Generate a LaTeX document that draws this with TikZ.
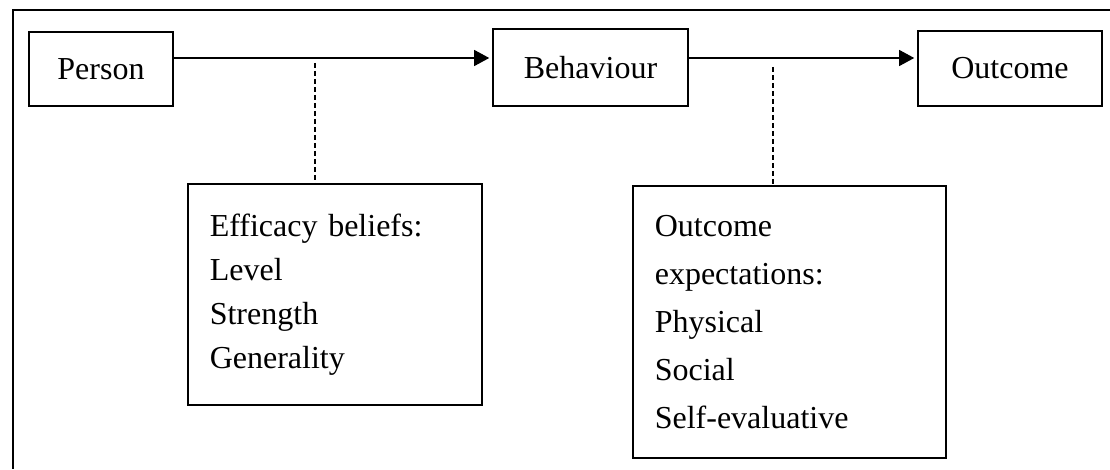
\documentclass[tikz,border=0pt]{standalone}
\usepackage{fontspec}
\setmainfont{Liberation Serif}
\usetikzlibrary{arrows.meta}

\begin{document}
\begin{tikzpicture}[
    x=1pt, y=1pt,
    stage/.style={draw, line width=1.6pt, inner sep=0pt,
      font=\fontsize{32}{44}\selectfont},
    factor/.style={draw, line width=1.6pt, anchor=north west, align=left,
      inner xsep=22pt, inner ysep=0pt},
    link/.style={line width=1.1pt, -{Triangle[length=15pt, width=16pt]}, shorten >=3pt},
    guide/.style={line width=1.1pt, dash pattern=on 5pt off 3pt},
  ]
  \useasboundingbox (0,0) rectangle (1110,469);

  % outer frame, only top and left show
  \draw[line width=1.6pt] (1110,459) -- (13,459) -- (13,0);

  % the three stages
  \node[stage, minimum width=144pt, minimum height=74pt] (person) at (101,400) {Person};
  \node[stage, minimum width=195pt, minimum height=77pt] (behaviour) at (590.5,401.5) {Behaviour};
  \node[stage, minimum width=184pt, minimum height=75pt] (outcome) at (1010,400.5) {Outcome};

  \coordinate (row) at (0,411);
  \draw[link] (person.east |- row) -- (behaviour.west |- row);
  \draw[link] (behaviour.east |- row) -- (outcome.west |- row);

  % the two sets of beliefs
  \node[factor, text width=250pt, minimum height=221pt,
    font=\fontsize{32}{44}\selectfont] (efficacy) at (187,286)
    {Efficacy beliefs:\\Level\\Strength\\Generality};
  \node[factor, text width=269pt, minimum height=272pt,
    font=\fontsize{32}{48}\selectfont] (expectation) at (632,284)
    {Outcome\\expectations:\\Physical\\Social\\Self-evaluative};

  \coordinate (dashA) at (315,406);
  \coordinate (dashB) at (773,402);
  \draw[guide] (dashA) -- (dashA |- efficacy.north);
  \draw[guide] (dashB) -- (dashB |- expectation.north);
\end{tikzpicture}
\end{document}
